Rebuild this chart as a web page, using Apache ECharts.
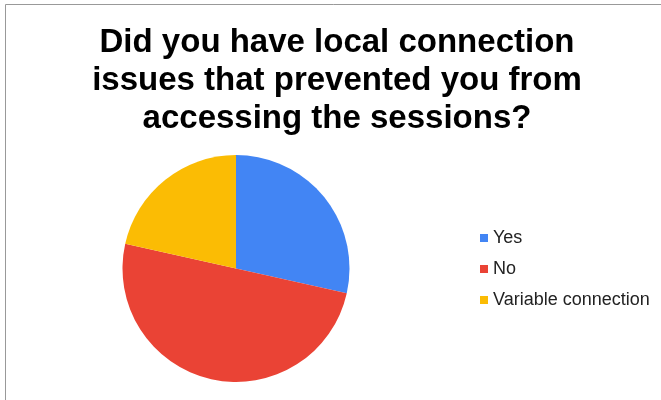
<!DOCTYPE html>
<html>
<head>
<meta charset="utf-8">
<script src="https://cdn.jsdelivr.net/npm/echarts@6/dist/echarts.min.js"></script>
<style>
  html, body { margin: 0; padding: 0; background: #ffffff; }
  #chart { width: 661px; height: 400px; }
</style>
</head>
<body>
<div id="chart"></div>
<script>
// Survey answers: local connection problems during the sessions
const categories = ['Yes', 'No', 'Variable connection'];
const responses = [28.5, 50, 21.5];
const sliceColors = ['#4285F4', '#EA4335', '#FBBC04'];
const titleText = 'Did you have local connection\nissues that prevented you from\naccessing the sessions?';

const font = "'Liberation Sans', Arial, sans-serif";

const chart = echarts.init(document.getElementById('chart'), null, { renderer: 'canvas' });

chart.setOption({
  backgroundColor: '#ffffff',
  animation: false,
  color: sliceColors,
  title: {
    text: titleText,
    left: 332,
    textAlign: 'center',
    top: 19,
    textStyle: {
      fontFamily: font,
      fontSize: 33,
      fontWeight: 'bold',
      color: '#000000',
      lineHeight: 38
    }
  },
  legend: {
    orient: 'vertical',
    left: 475,
    top: 224,
    icon: 'rect',
    itemWidth: 8,
    itemHeight: 8,
    itemGap: 13,
    data: categories,
    textStyle: {
      fontFamily: font,
      fontSize: 18,
      color: '#222222'
    }
  },
  graphic: [{
    type: 'polyline',
    shape: { points: [[5.5, 400], [5.5, 4.5], [661, 4.5]] },
    style: { stroke: '#999999', lineWidth: 1, fill: null }
  }],
  series: [{
    type: 'pie',
    center: [236, 268.5],
    radius: 113.5,
    startAngle: 90,
    clockwise: true,
    label: { show: false },
    labelLine: { show: false },
    itemStyle: { borderWidth: 0 },
    emphasis: { disabled: true },
    data: categories.map((name, i) => ({ name: name, value: responses[i] }))
  }]
});
</script>
</body>
</html>
